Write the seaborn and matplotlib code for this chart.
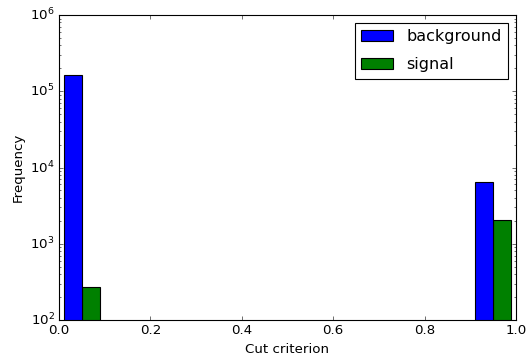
import matplotlib
matplotlib.use("Agg")
import matplotlib.pyplot as plt
from matplotlib.patches import Patch
import numpy as np
import pandas as pd
import seaborn as sns

# Data
bin_centers = [0.05, 0.95]
background_counts = [163000, 6450]
signal_counts = [272, 2030]
series_names = ["background", "signal"]
series_colors = ["#0000ff", "#008000"]

df = pd.DataFrame({
    "cut": bin_centers * 2,
    "count": background_counts + signal_counts,
    "sample": [series_names[0]] * len(bin_centers) + [series_names[1]] * len(bin_centers),
})

plt.style.use("classic")
fig = plt.figure(figsize=(527 / 80, 358 / 80), dpi=80)
ax = fig.add_axes([0.112, 0.106, 0.867, 0.852])

sns.histplot(data=df, x="cut", weights="count", hue="sample",
             hue_order=series_names, palette=series_colors,
             bins=10, binrange=(0, 1), multiple="dodge", shrink=1,
             alpha=1, edgecolor="black", linewidth=1, legend=False, ax=ax)

# Match matplotlib's rwidth=0.8 side-by-side layout: shrink each bin's pair of bars about bin center
bw = 0.1
for p in ax.patches:
    x = p.get_x()
    w = p.get_width()
    mid = x + w / 2
    c = (np.floor(mid / bw) + 0.5) * bw
    p.set_x(c + (x - c) * 0.8)
    p.set_width(w * 0.8)

ax.set_yscale("log")
ax.set_ylim(1e2, 1e6)
ax.set_xlim(0, 1)
ax.set_xlabel("Cut criterion")
ax.set_ylabel("Frequency")

handles = [Patch(facecolor=c, edgecolor="black", label=n) for n, c in zip(series_names, series_colors)]
ax.legend(handles=handles, loc="upper right", labelspacing=0.8, borderpad=0.4)

fig.savefig("out.png", dpi=80)
